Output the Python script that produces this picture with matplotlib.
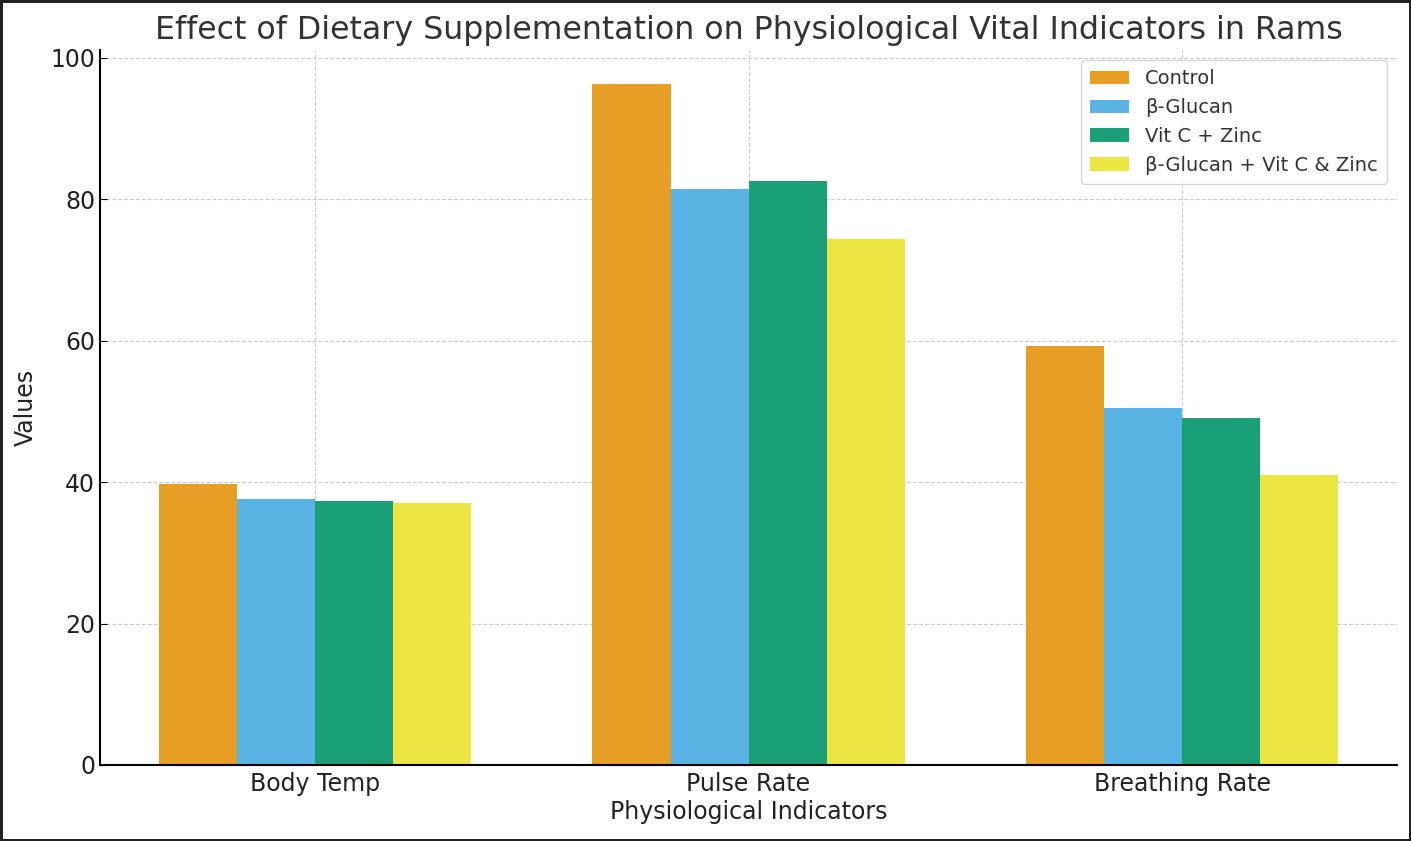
import numpy as np
import matplotlib
matplotlib.use('Agg')
import matplotlib.pyplot as plt

# values
indicators = ['Body Temp', 'Pulse Rate', 'Breathing Rate']
groups = ['Control', 'β-Glucan', 'Vit C + Zinc', 'β-Glucan + Vit C & Zinc']
control = [39.7, 96.3, 59.3]
glucan = [37.6, 81.5, 50.5]
vitc_zinc = [37.3, 82.6, 49.1]
combo = [37.0, 74.4, 41.0]

colors = ['#E69F24', '#5AB3E5', '#1A9F76', '#ECE642']

fig = plt.figure(figsize=(14.11, 8.41), dpi=100, edgecolor='#222222', linewidth=2.5)
ax = fig.add_axes([0.0709, 0.0904, 0.9192, 0.8501])

x = np.arange(len(indicators))
width = 0.18
series = [control, glucan, vitc_zinc, combo]
for i, vals in enumerate(series):
	ax.bar(x + (i - 1.5) * width, vals, width, label=groups[i], color=colors[i])

ax.set_title('Effect of Dietary Supplementation on Physiological Vital Indicators in Rams',
	fontsize=22.8, color='#333333', pad=8)
ax.set_xlabel('Physiological Indicators', fontsize=17, color='#222222', labelpad=3)
ax.set_ylabel('Values', fontsize=17, color='#222222', labelpad=9)
ax.set_xticks(x)
ax.set_xticklabels(indicators)
ax.tick_params(axis='both', direction='in', labelsize=17, labelcolor='#222222', length=5)
ax.tick_params(axis='x', pad=5)

ax.grid(True, linestyle='--', color='#cccccc', linewidth=0.8)
ax.set_axisbelow(True)
ax.spines['top'].set_visible(False)
ax.spines['right'].set_visible(False)
ax.spines['left'].set_linewidth(1.5)
ax.spines['bottom'].set_linewidth(1.5)

leg = ax.legend(fontsize=14, loc='upper right', borderpad=0.5, labelspacing=0.5,
	bbox_to_anchor=(1.0, 1.0))
for t in leg.get_texts():
	t.set_color('#333333')

fig.savefig('out.png', dpi=100)
